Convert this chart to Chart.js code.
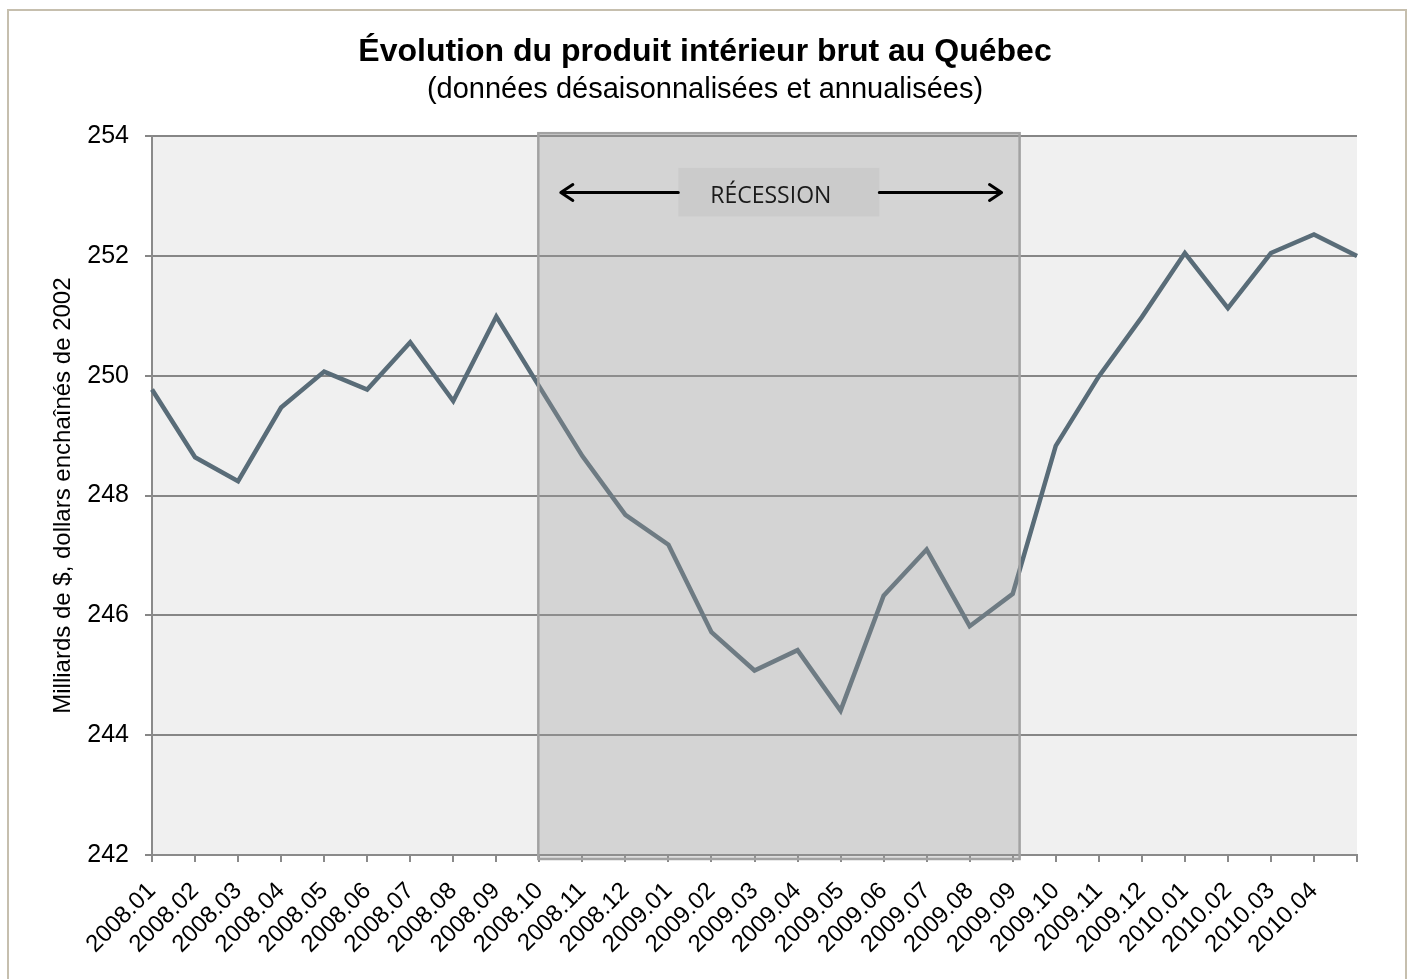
<!DOCTYPE html>
<html lang="fr">
<head>
<meta charset="utf-8">
<title>Évolution du produit intérieur brut au Québec</title>
<script src="https://cdn.jsdelivr.net/npm/chart.js@4.4.1/dist/chart.umd.min.js"></script>
<style>
    html, body {
        margin: 0;
        padding: 0;
        background: #ffffff;
    }
    #wrap {
        position: relative;
        width: 1410px;
        height: 979px;
        overflow: hidden;
    }
    #frame {
        position: absolute;
        left: 7px;
        top: 9px;
        width: 1396px;
        height: 1000px;
        border: 2px solid #c6bfae;
        pointer-events: none;
    }
</style>
</head>
<body>
<div id="wrap">
    <canvas id="chartCanvas" width="1410" height="979"></canvas>
    <div id="frame"></div>
</div>
<script>
// Données (milliards de $ enchaînés de 2002)
const months = [
    '2008.01', '2008.02', '2008.03', '2008.04', '2008.05', '2008.06',
    '2008.07', '2008.08', '2008.09', '2008.10', '2008.11', '2008.12',
    '2009.01', '2009.02', '2009.03', '2009.04', '2009.05', '2009.06',
    '2009.07', '2009.08', '2009.09', '2009.10', '2009.11', '2009.12',
    '2010.01', '2010.02', '2010.03', '2010.04', ''
];
const pib = [
    249.77, 248.64, 248.24, 249.47, 250.07, 249.77, 250.56, 249.58, 250.99,
    249.82, 248.66, 247.68, 247.18, 245.72, 245.08, 245.42, 244.41, 246.33,
    247.10, 245.82, 246.36, 248.83, 249.99, 250.98, 252.05, 251.13, 252.05,
    252.36, 252.00
];
const yTicks = [242, 244, 246, 248, 250, 252, 254];

// Période de récession (indices sur l'axe des catégories)
const recessionStart = 9;
const recessionEnd = 20.16;
const recessionLabel = 'RÉCESSION';

const LINE_COLOR = '#596c78';
const FONT = 'Arial, "Liberation Sans", sans-serif';

// fond gris de la zone de tracé
const plotBackground = {
    id: 'plotBackground',
    beforeDraw(chart) {
        const { ctx, chartArea: a } = chart;
        ctx.save();
        ctx.fillStyle = '#f0f0f0';
        ctx.fillRect(a.left, a.top, a.right - a.left, a.bottom - a.top);
        ctx.restore();
    }
};

// bande de récession, par-dessus la courbe
const recessionBand = {
    id: 'recessionBand',
    afterDatasetsDraw(chart) {
        const { ctx, scales: { x, y } } = chart;
        const x0 = x.getPixelForValue(recessionStart) - 1;
        const x1 = x.getPixelForValue(recessionEnd);
        const y0 = y.getPixelForValue(yTicks[yTicks.length - 1]) - 3;
        const y1 = y.getPixelForValue(yTicks[0]) + 4;

        ctx.save();
        ctx.fillStyle = 'rgba(154, 154, 154, 0.33)';
        ctx.fillRect(x0, y0, x1 - x0, y1 - y0);
        ctx.strokeStyle = '#a2a2a2';
        ctx.lineWidth = 2.5;
        ctx.strokeRect(x0, y0, x1 - x0, y1 - y0);

        // étiquette
        const bx0 = x.getPixelForValue(12.23);
        const bx1 = x.getPixelForValue(16.9);
        const by0 = y.getPixelForValue(253.47);
        const by1 = y.getPixelForValue(252.66);
        ctx.fillStyle = '#cbcbcb';
        ctx.fillRect(bx0, by0, bx1 - bx0, by1 - by0);
        ctx.fillStyle = '#1a1a1a';
        ctx.font = '23px "Open Sans", sans-serif';
        ctx.textAlign = 'center';
        ctx.textBaseline = 'middle';
        ctx.fillText(recessionLabel, (bx0 + bx1) / 2 - 8, (by0 + by1) / 2 + 4);

        // flèches
        const ay = y.getPixelForValue(253.06);
        const left = x.getPixelForValue(9.5);
        const right = x.getPixelForValue(19.74);
        ctx.strokeStyle = '#000000';
        ctx.lineWidth = 3;
        ctx.lineCap = 'round';
        ctx.lineJoin = 'round';
        ctx.beginPath();
        ctx.moveTo(bx0, ay);
        ctx.lineTo(left, ay);
        ctx.moveTo(left + 12, ay - 8);
        ctx.lineTo(left, ay);
        ctx.lineTo(left + 12, ay + 8);
        ctx.moveTo(bx1, ay);
        ctx.lineTo(right, ay);
        ctx.moveTo(right - 12, ay - 8);
        ctx.lineTo(right, ay);
        ctx.lineTo(right - 12, ay + 8);
        ctx.stroke();
        ctx.restore();
    }
};

const ctx = document.getElementById('chartCanvas').getContext('2d');
new Chart(ctx, {
    type: 'line',
    data: {
        labels: months,
        datasets: [{
            label: 'PIB',
            data: pib,
            borderColor: LINE_COLOR,
            borderWidth: 4.5,
            pointRadius: 0,
            tension: 0,
            fill: false
        }]
    },
    options: {
        responsive: false,
        animation: false,
        layout: {
            padding: { left: 0, right: 0, top: 0, bottom: 0 }
        },
        plugins: {
            legend: { display: false },
            tooltip: { enabled: false },
            title: {
                display: true,
                text: 'Évolution du produit intérieur brut au Québec',
                color: '#000000',
                font: { family: FONT, size: 32, weight: 'bold' },
                padding: { top: 33, bottom: 1 }
            },
            subtitle: {
                display: true,
                text: '(données désaisonnalisées et annualisées)',
                color: '#000000',
                font: { family: FONT, size: 29 },
                padding: { top: 0, bottom: 29 }
            }
        },
        scales: {
            x: {
                offset: false,
                grid: {
                    drawOnChartArea: false,
                    drawTicks: true,
                    tickLength: 7,
                    color: '#8a8a8a',
                    lineWidth: 2
                },
                border: { color: '#8a8a8a', width: 2 },
                ticks: {
                    autoSkip: false,
                    minRotation: 45,
                    maxRotation: 45,
                    padding: 15,
                    color: '#000000',
                    font: { family: FONT, size: 24 }
                },
                afterFit(scale) {
                    scale.height = 124;
                }
            },
            y: {
                min: yTicks[0],
                max: yTicks[yTicks.length - 1],
                afterBuildTicks(scale) {
                    scale.ticks = yTicks.map(v => ({ value: v }));
                },
                grid: {
                    color: '#868686',
                    lineWidth: 2,
                    tickLength: 7
                },
                border: { color: '#8a8a8a', width: 2 },
                ticks: {
                    padding: 16,
                    color: '#000000',
                    font: { family: FONT, size: 25 }
                },
                title: {
                    display: true,
                    text: 'Milliards de $, dollars enchaînés de 2002',
                    color: '#000000',
                    font: { family: FONT, size: 24 },
                    padding: { top: 49, bottom: 0 }
                },
                afterFit(scale) {
                    scale.width = 152;
                }
            },
            // marge droite vide, pour garder le titre centré sur la page
            yRight: {
                position: 'right',
                display: true,
                grid: { display: false, drawTicks: false },
                border: { display: false },
                ticks: { display: false },
                afterFit(scale) {
                    scale.width = 53;
                }
            }
        }
    },
    plugins: [plotBackground, recessionBand]
});
</script>
</body>
</html>
